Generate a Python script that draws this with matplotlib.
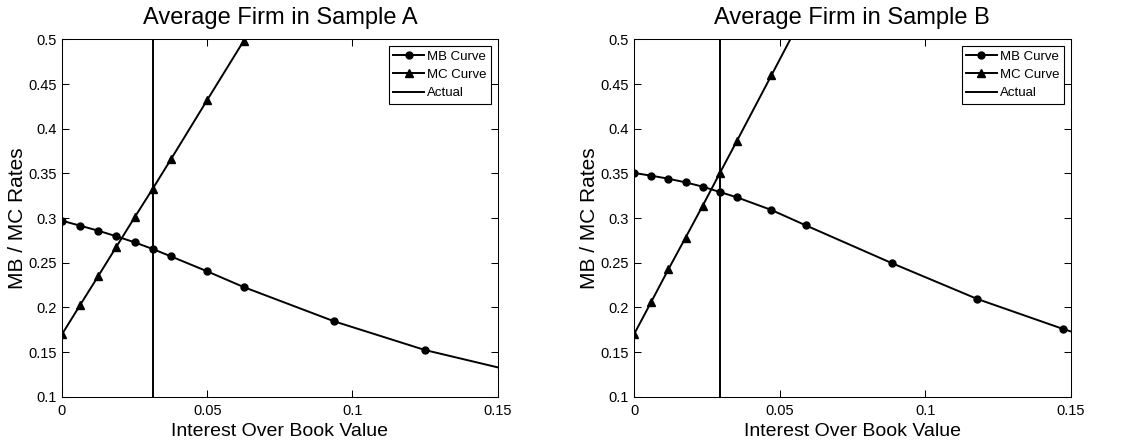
import numpy as np
import matplotlib.pyplot as plt

plt.rcParams['font.family'] = ['Liberation Sans', 'DejaVu Sans']

# sample A: step 0.00625, markers at 0..6, 8, 10, 15, 20, 25 steps
xa_mb = [0, 0.00625, 0.0125, 0.01875, 0.025, 0.03125, 0.0375, 0.05, 0.0625, 0.09375, 0.125, 0.15625]
ya_mb = [0.297, 0.2914, 0.2858, 0.2795, 0.2728, 0.2653, 0.2571, 0.2403, 0.2228, 0.1843, 0.1522, 0.128]
xa_mc = [0, 0.00625, 0.0125, 0.01875, 0.025, 0.03125, 0.0375, 0.05, 0.0625]
ya_mc = [0.1698, 0.2026, 0.2351, 0.2679, 0.3007, 0.3328, 0.3657, 0.4321, 0.498]
actual_a = 0.03125

# sample B: step ~0.0059
xb_mb = [0, 0.0059, 0.0118, 0.0177, 0.0236, 0.0295, 0.0354, 0.0472, 0.059, 0.0885, 0.118, 0.1475]
yb_mb = [0.3504, 0.3474, 0.344, 0.3399, 0.3351, 0.3291, 0.3231, 0.309, 0.2918, 0.2496, 0.2093, 0.1757]
xb_mb_tail = [0.1475, 0.15]
yb_mb_tail = [0.1757, 0.1731]
xb_mc = [0, 0.0059, 0.0118, 0.0177, 0.0236, 0.0295, 0.0354, 0.0472, 0.059]
yb_mc = [0.1698, 0.206, 0.2425, 0.278, 0.3138, 0.3504, 0.3866, 0.4597, 0.533]
actual_b = 0.0295

fig = plt.figure(figsize=(11.35, 4.42), dpi=100)
ax1 = fig.add_axes([0.0546, 0.1025, 0.3839, 0.8085])
ax2 = fig.add_axes([0.5586, 0.1025, 0.3847, 0.8085])

lw = 1.4
panels = [
    (ax1, xa_mb, ya_mb, None, None, xa_mc, ya_mc, actual_a, 'Average Firm in Sample A'),
    (ax2, xb_mb, yb_mb, xb_mb_tail, yb_mb_tail, xb_mc, yb_mc, actual_b, 'Average Firm in Sample B'),
]
for ax, xmb, ymb, xt, yt, xmc, ymc, act, title in panels:
    ax.plot(xmb, ymb, 'k-', marker='o', ms=5, lw=lw, label='MB Curve')
    if xt is not None:
        ax.plot(xt, yt, 'k-', lw=lw)
    ax.plot(xmc, ymc, 'k-', marker='^', ms=6, lw=lw, label='MC Curve')
    ax.axvline(act, color='k', lw=lw, label='Actual')
    ax.set_xlim(0, 0.15)
    ax.set_ylim(0.1, 0.5)
    ax.set_xticks([0, 0.05, 0.1, 0.15])
    ax.set_xticklabels(['0', '0.05', '0.1', '0.15'])
    yt_vals = np.arange(0.1, 0.501, 0.05)
    ax.set_yticks(yt_vals)
    ax.set_yticklabels(['0.1', '0.15', '0.2', '0.25', '0.3', '0.35', '0.4', '0.45', '0.5'])
    ax.tick_params(direction='in', top=True, right=True, labelsize=10.5, length=5, width=0.75)
    ax.tick_params(axis='x', pad=5.5)
    ax.tick_params(axis='y', pad=3.5)
    ax.set_title(title, fontsize=17, pad=11)
    ax.set_xlabel('Interest Over Book Value', fontsize=14, labelpad=3.5)
    ax.set_ylabel('MB / MC Rates', fontsize=15)
    ax.yaxis.set_label_coords(-0.08, 0.5)
    for s in ax.spines.values():
        s.set_linewidth(0.75)
    leg = ax.legend(loc='upper right', fontsize=9.5, fancybox=False, framealpha=1,
                    edgecolor='k', handlelength=2.3, handletextpad=0.25,
                    borderpad=0.35, labelspacing=0.45, borderaxespad=0.5)
    leg.get_frame().set_linewidth(0.8)

fig.savefig('out.png', dpi=100)
